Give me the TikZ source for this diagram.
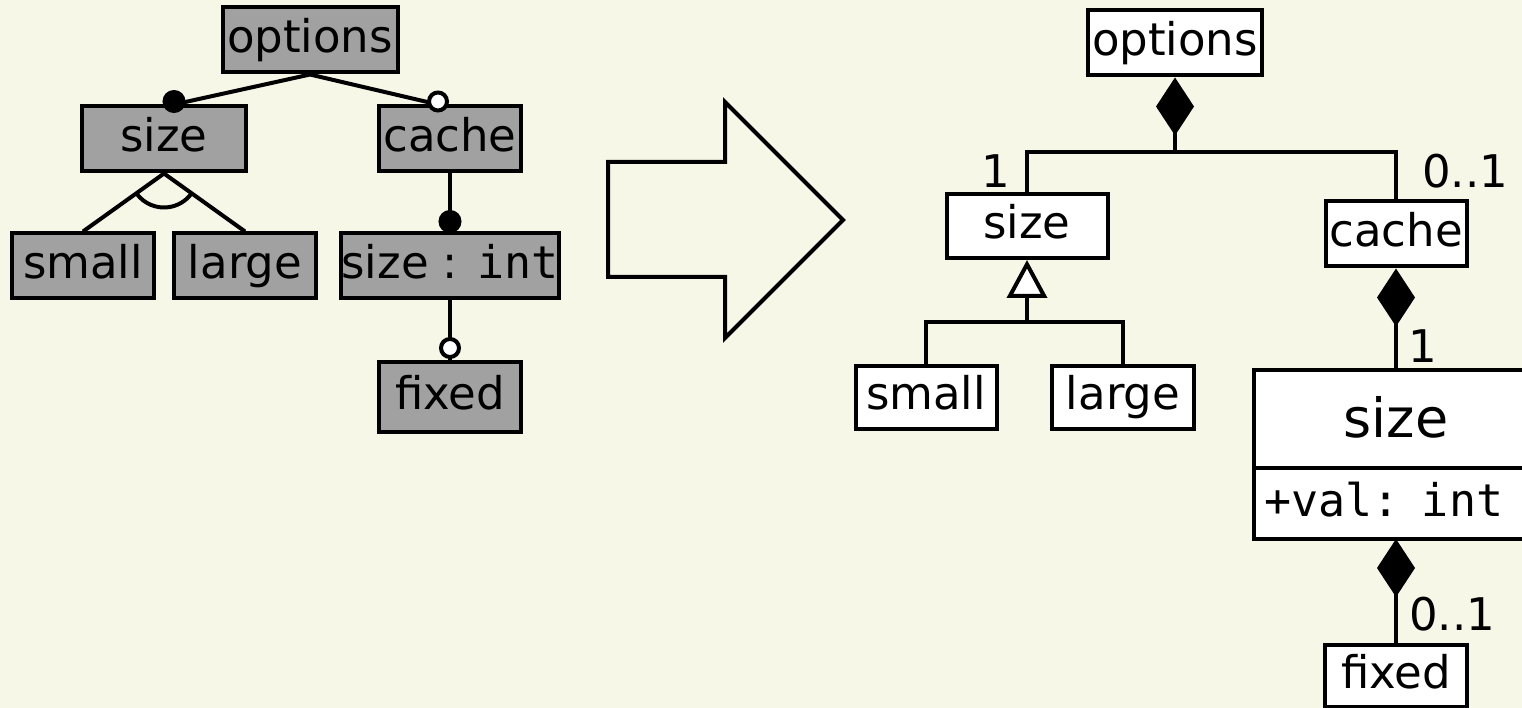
\documentclass[tikz,border=0pt]{standalone}
\usepackage{fontspec}
\setmainfont{DejaVu Sans}
\setmonofont{DejaVu Sans Mono}
\usetikzlibrary{arrows.meta}
\definecolor{paper}{RGB}{247,247,232}
\definecolor{featgray}{RGB}{161,161,161}

\begin{document}
\begin{tikzpicture}[x=1pt,y=-1pt,line width=4pt,
  feat/.style={draw,fill=featgray,minimum height=65pt,inner sep=0pt,
    font=\fontsize{45}{52}\selectfont,text height=35pt,text depth=10pt},
  cls/.style={draw,fill=white,minimum height=64pt,inner sep=0pt,
    font=\fontsize{45}{52}\selectfont,text height=35pt,text depth=10pt},
  mult/.style={inner sep=0pt,font=\fontsize{45}{52}\selectfont},
  comp/.style={{Diamond[length=58pt,width=38pt]}-},
  gen/.style={-{Triangle[fill=white,length=38pt,width=40pt]}}]

    \fill[paper] (0,0) rectangle (1522,708);
    \useasboundingbox (0,0) rectangle (1522,708);

    % feature model
    \node[feat,minimum width=175pt] (optL) at (310,40) {options};
    \node[feat,minimum width=164pt] (sizeL) at (164,139) {size};
    \node[feat,minimum width=142pt] (cacheL) at (450,139) {cache};
    \node[feat,minimum width=142pt] (smallL) at (83,266) {small};
    \node[feat,minimum width=142pt] (largeL) at (245,266) {large};
    \node[feat,minimum width=208pt] (sizeintL) at (450,266) {size : \texttt{int}};
    \node[feat,minimum width=142pt,minimum height=70pt] (fixedL) at (450,397) {fixed};

    \draw (optL.south) -- ([xshift=10pt]sizeL.north);
    \draw (optL.south) -- ([xshift=-12pt]cacheL.north);
    \draw (sizeL.south) -- (smallL.north);
    \draw (sizeL.south) -- (largeL.north);
    \draw (sizeL.south) ++(217.8:34pt) arc[start angle=217.8,end angle=322.9,radius=34pt];
    \draw (cacheL.south) -- (sizeintL.north);
    \draw (sizeintL.south) -- (fixedL.north);

    \filldraw ([xshift=10pt,yshift=3pt]sizeL.north) circle (9.5pt);
    \filldraw[fill=white] ([xshift=-12pt,yshift=3pt]cacheL.north) circle (9pt);
    \filldraw ([yshift=10pt]sizeintL.north) circle (9.5pt);
    \filldraw[fill=white] ([yshift=12pt]fixedL.north) circle (9pt);

    % the big arrow
    \draw (608,162) -- (725,162) -- (725,102) -- (843,220) -- (725,338)
      -- (725,277) -- (608,277) -- cycle;

    % class diagram
    \node[cls,minimum width=174pt,minimum height=65pt] (optR) at (1175,43) {options};
    \node[cls,minimum width=161pt] (sizeR) at (1027,226) {size};
    \node[cls,minimum width=141pt,minimum height=65pt] (cacheR) at (1396,234) {cache};
    \node[cls,minimum width=141pt,minimum height=63pt] (smallR) at (926,397) {small};
    \node[cls,minimum width=142pt,minimum height=63pt] (largeR) at (1123,397) {large};
    \node[cls,outer sep=0pt,minimum width=284pt,minimum height=98pt,font=\fontsize{54}{60}\selectfont,
      text height=36pt,text depth=0pt] (clsName) at (1396,419) {size};
    \node[cls,outer sep=0pt,anchor=north,minimum height=71pt,text width=264pt,inner xsep=10pt,align=left,
      font=\ttfamily\fontsize{45}{52}\selectfont] (clsAttr) at (clsName.south) {+val: int};
    \node[cls,minimum width=142pt,minimum height=62pt] (fixedR) at (1396,676) {fixed};

    \coordinate (bar) at (1175,152);
    \coordinate (split) at (1027,322);

    \draw (sizeR.north) |- (bar) -| (cacheR.north);
    \draw[comp] (optR.south) -- (bar);
    \draw (smallR.north) |- (split) -| (largeR.north);
    \draw[gen] (split) -- (sizeR.south);
    \draw[comp] (cacheR.south) -- (clsName.north);
    \draw[comp] (clsAttr.south) -- (fixedR.north);

    \node[mult] (m1) at (996,171) {1};
    \node[mult] (m2) at (1465,171) {0..1};
    \node[mult] (m3) at (1423,346) {1};
    \node[mult] (m4) at (1452,614) {0..1};

\end{tikzpicture}
\end{document}
